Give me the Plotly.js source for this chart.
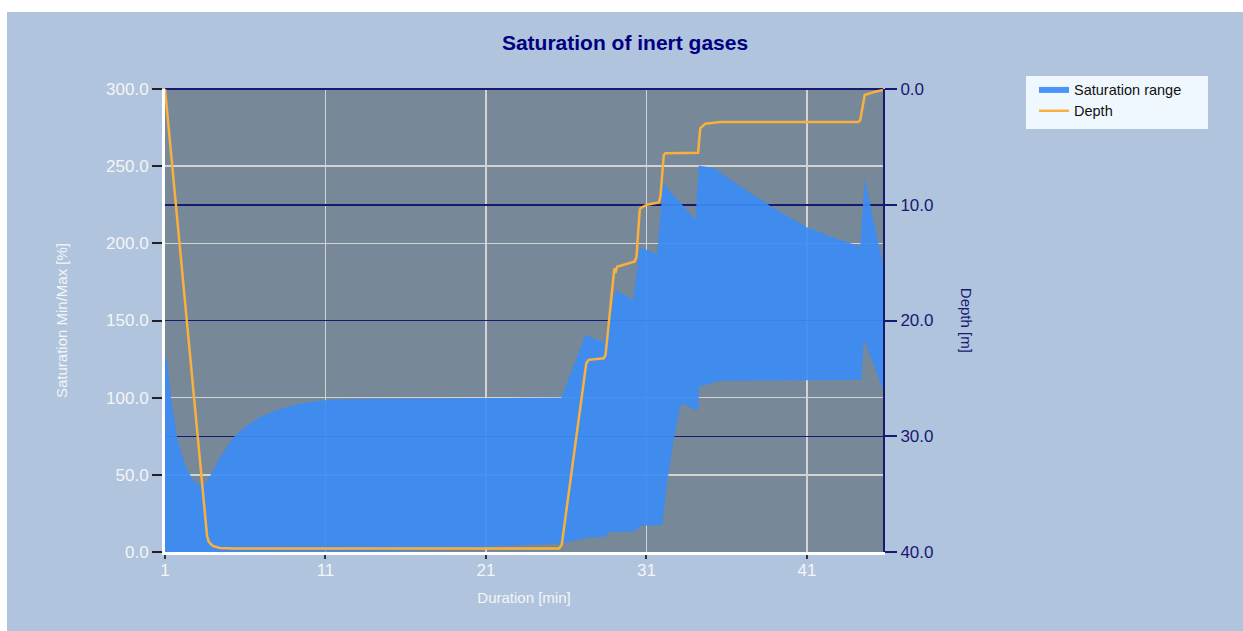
<!DOCTYPE html>
<html>
<head>
<meta charset="utf-8">
<script src="https://cdn.plot.ly/plotly-3.0.1.min.js"></script>
<style>
  html, body { margin: 0; padding: 0; background: #ffffff; width: 1243px; height: 631px; overflow: hidden; }
  #chart { position: absolute; left: 7px; top: 12px; width: 1236px; height: 619px; }
</style>
</head>
<body>
<div id="chart"></div>
<script>
// ---- Data ----
// Depth profile [m] over duration [min]
var depthTime = [1.0, 3.62, 3.72, 3.95, 4.4, 5.3, 15.0, 25.55, 25.72, 27.25, 27.4, 28.34, 28.45, 29.0, 29.07, 29.17, 30.27, 30.38, 30.58, 30.63, 31.04, 31.77, 31.87, 32.08, 32.18, 34.22, 34.35, 34.66, 35.6, 44.2, 44.32, 44.6, 45.26, 45.74];
var depthValues = [0.0, 38.6, 39.1, 39.45, 39.65, 39.7, 39.7, 39.7, 39.4, 23.7, 23.4, 23.27, 22.98, 15.5, 15.9, 15.35, 14.9, 14.5, 10.45, 10.3, 10.0, 9.8, 9.3, 5.7, 5.55, 5.5, 3.4, 3.0, 2.85, 2.85, 2.7, 0.52, 0.23, 0.09];

// Saturation range: upper (max) envelope [%]
var satMaxTime = [1.0, 1.11, 1.36, 1.78, 2.1, 2.4, 2.81, 3.2, 3.43, 3.85, 4.47, 5.3, 6.14, 6.97, 8.0, 9.04, 10.08, 11.12, 13.19, 19.42, 25.7, 27.2, 28.34, 29.07, 30.17, 30.58, 31.67, 32.04, 34.05, 34.26, 35.2, 36.85, 38.93, 41.0, 43.08, 44.33, 44.6, 45.74];
var satMaxValues = [126, 125.7, 100.7, 72.6, 61, 53, 45.6, 43.6, 43.4, 49.9, 61.8, 74.7, 82.3, 87.7, 92, 95.3, 97.4, 98.5, 99.2, 99.8, 100, 140.6, 135.7, 169.8, 163.3, 197.5, 193.1, 239, 215.2, 250.4, 248.7, 236.8, 222.8, 210.4, 202.2, 197.9, 242, 186];

// Saturation range: lower (min) envelope [%]
var satMinTime = [1.0, 15.0, 20.5, 21.5, 25.75, 27.3, 28.45, 28.65, 30.3, 30.6, 31.87, 32.0, 32.28, 32.7, 33.1, 33.22, 34.05, 34.22, 34.28, 35.6, 44.4, 44.55, 45.74];
var satMinValues = [0, 0.5, 2.0, 3.5, 5.6, 9.3, 9.9, 12.8, 13.5, 16.8, 17.5, 18.0, 44.5, 72.6, 94.2, 96.4, 92, 92, 107, 111, 111.5, 138, 105];

var xTickVals = [1, 11, 21, 31, 41];
var xTickText = ['1', '11', '21', '31', '41'];

// ---- Traces ----
var navy = '#191970';
var FONT = 'Liberation Sans, Arial, sans-serif';
var tickFont = {family: FONT, size: 17, color: '#F5F5F5'};
var bandColor = 'rgba(60,139,245,0.92)';

var traceMin = {
  x: satMinTime, y: satMinValues, type: 'scatter', mode: 'lines',
  line: {width: 0, color: bandColor},
  hoverinfo: 'skip', showlegend: false, xaxis: 'x', yaxis: 'y'
};
var traceMax = {
  x: satMaxTime, y: satMaxValues, type: 'scatter', mode: 'lines',
  name: 'Saturation range',
  fill: 'tonexty', fillcolor: bandColor,
  line: {width: 0, color: bandColor},
  xaxis: 'x', yaxis: 'y'
};
var traceDepth = {
  x: depthTime, y: depthValues, type: 'scatter', mode: 'lines',
  name: 'Depth',
  line: {color: '#FAB03C', width: 2.5},
  xaxis: 'x', yaxis: 'y2'
};

// pixel -> paper helpers for the legend box (plot area spans x 165..883, y 89..552 on the page)
function px(x) { return (x - 165) / 718; }
function py(y) { return (552 - y) / 463; }

var layout = {
  width: 1236, height: 619,
  margin: {l: 158, r: 360, t: 77, b: 79, pad: 0},
  paper_bgcolor: '#B0C4DE',
  plot_bgcolor: '#778899',
  title: {
    text: 'Saturation of inert gases',
    font: {family: FONT, size: 21, color: '#000080', weight: 'bold'},
    x: 0.5, xref: 'container', xanchor: 'center',
    y: 0.95, yref: 'container', yanchor: 'middle'
  },
  xaxis: {
    range: [1, 45.74],
    tickmode: 'array', tickvals: xTickVals, ticktext: xTickText,
    showgrid: true, gridcolor: '#D3D3D3', gridwidth: 1.5,
    zeroline: false,
    showline: true, linecolor: '#FFFFFF', linewidth: 3,
    ticks: 'outside', ticklen: 4, tickwidth: 2, tickcolor: '#333333',
    ticklabelstandoff: -3,
    tickfont: tickFont,
    title: {text: 'Duration [min]', font: {family: FONT, size: 15, color: '#F5F5F5'}, standoff: 14}
  },
  yaxis: {
    range: [0, 300], dtick: 50, tick0: 0, tickformat: '.1f',
    showgrid: true, gridcolor: '#D3D3D3', gridwidth: 1.5,
    zeroline: false,
    showline: true, linecolor: '#FFFFFF', linewidth: 3,
    ticks: 'outside', ticklen: 10, tickwidth: 2, tickcolor: '#222222',
    tickfont: tickFont,
    title: {text: 'Saturation Min/Max [%]', font: {family: FONT, size: 15, color: '#F5F5F5'}, standoff: 35}
  },
  yaxis2: {
    overlaying: 'y', side: 'right',
    range: [40, 0], dtick: 10, tick0: 0, tickformat: '.1f',
    showgrid: true, gridcolor: navy, gridwidth: 1.5,
    zeroline: true, zerolinecolor: navy, zerolinewidth: 2,
    showline: true, linecolor: navy, linewidth: 2,
    ticks: 'outside', ticklen: 12, tickwidth: 2, tickcolor: navy,
    tickfont: {family: FONT, size: 17, color: navy}
  },
  legend: {
    x: px(1034), y: py(73), xref: 'paper', yref: 'paper',
    xanchor: 'left', yanchor: 'top',
    bgcolor: 'rgba(0,0,0,0)', borderwidth: 0,
    traceorder: 'normal',
    font: {family: FONT, size: 14.5, color: '#111111'}
  },
  shapes: [{
    type: 'rect', xref: 'paper', yref: 'paper',
    x0: px(1026), x1: px(1208), y0: py(129), y1: py(76),
    fillcolor: '#F0F8FF', line: {width: 0}, layer: 'below'
  }],
  annotations: [{
    text: 'Depth [m]', textangle: 90,
    xref: 'paper', yref: 'paper', x: px(966.7), y: 0.5,
    xanchor: 'center', yanchor: 'middle', showarrow: false,
    font: {family: FONT, size: 15, color: navy}
  }],
  showlegend: true
};

Plotly.newPlot('chart', [traceMin, traceMax, traceDepth], layout, {displayModeBar: false, staticPlot: true});
</script>
</body>
</html>
